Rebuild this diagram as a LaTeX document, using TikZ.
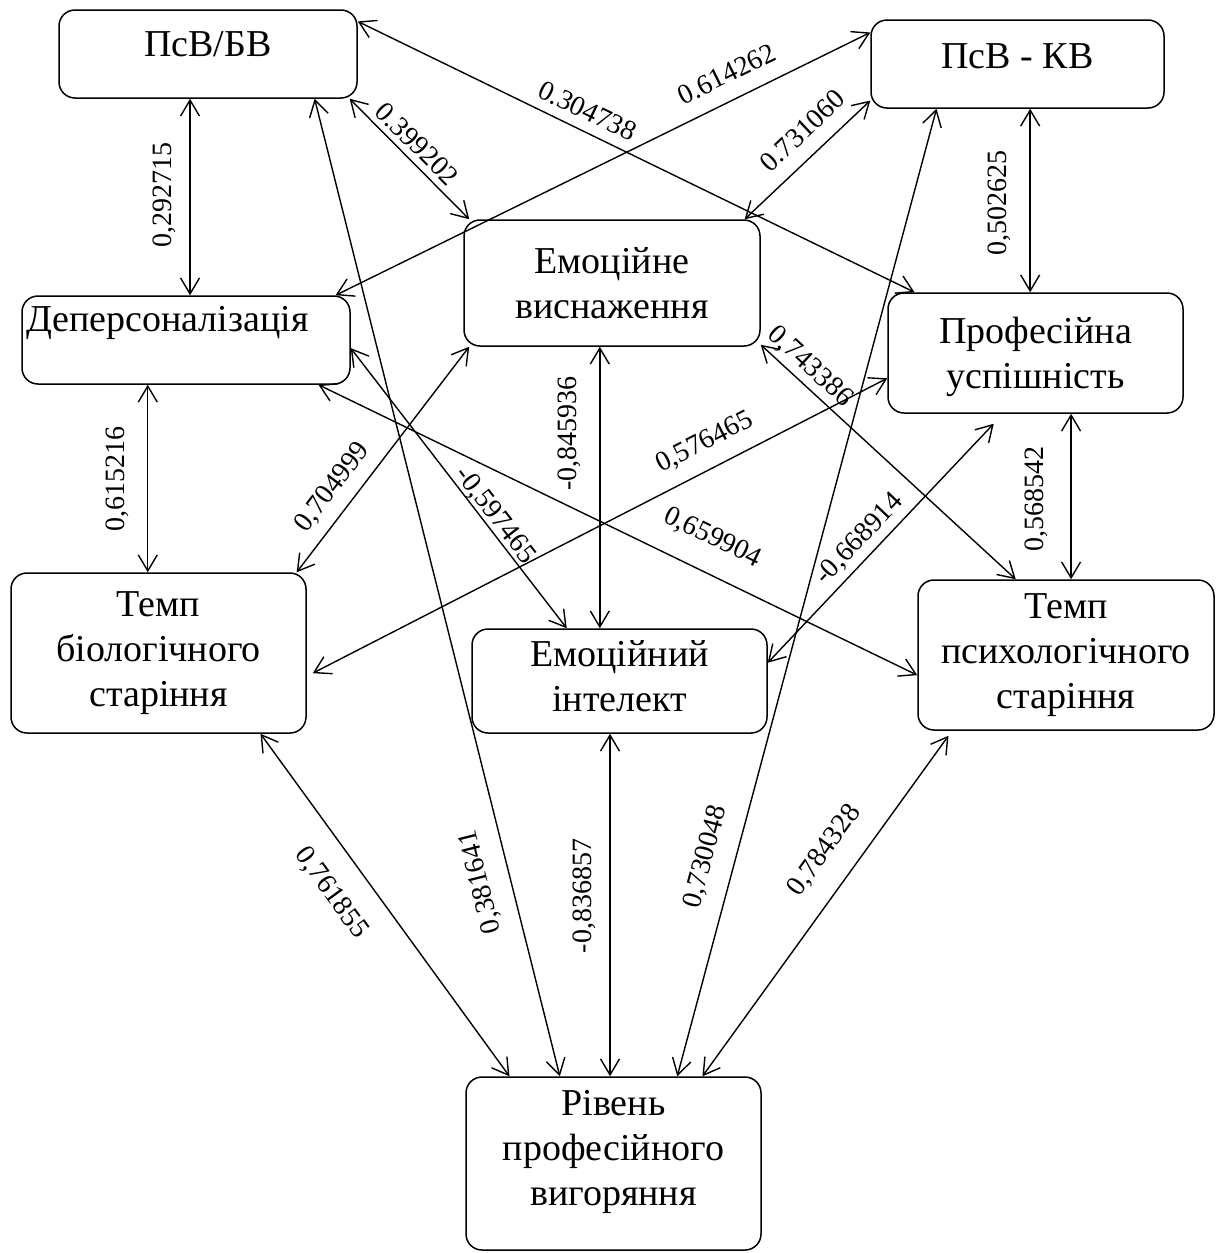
\documentclass[tikz,border=0pt]{standalone}
\usepackage{fontspec}
\setmainfont{Liberation Serif}
\usetikzlibrary{arrows.meta,calc}
\begin{document}
\begin{tikzpicture}[x=0.5pt,y=-0.5pt,
  box/.style={draw, line width=0.75pt, rounded corners=8pt, inner sep=0pt, align=center,
    font=\fontsize{19}{22.5}\selectfont},
  lab/.style={font=\fontsize{14}{16}\selectfont, inner sep=0pt, text depth=0pt, sloped, allow upside down},
  dar/.style={line width=0.7pt, {Straight Barb[length=8pt,width=9.5pt]}-{Straight Barb[length=8pt,width=9.5pt]}}
]
\useasboundingbox (0,0) rectangle (1218,1253);

% boxes
\node[box, minimum width=149pt, minimum height=44pt, text depth=10.3pt] (A) at (208,54) {ПсВ/БВ};
\node[box, minimum width=146.5pt, minimum height=44pt, text depth=8.3pt] (B) at (1017.5,64) {ПсВ - КВ};
\node[box, minimum width=148pt, minimum height=63pt] (C) at (612,283) {Емоційне\\виснаження};
\node[box, text width=160pt, align=left, inner xsep=2pt, inner ysep=0pt,
      text height=17.75pt, text depth=26.25pt] (D) at (186,340) {Деперсоналізація};
\node[box, minimum width=147.5pt, minimum height=60pt, text depth=0pt] (E) at (1035.5,353) {Професійна\\успішність};
\node[box, minimum width=147.5pt, minimum height=80pt] (F) at (158.5,653) {Темп\\біологічного\\старіння};
\node[box, minimum width=147.5pt, minimum height=52pt, text depth=5pt] (G) at (619.5,681) {Емоційний\\інтелект};
\node[box, minimum width=148pt, minimum height=75pt] (H) at (1066,655) {Темп\\психологічного\\старіння};
\node[box, minimum width=147.5pt, minimum height=86.5pt, text depth=16pt] (I) at (613.5,1163.5) {Рівень\\професійного\\вигоряння};

% vertical connectors
\coordinate (a1) at ($(A.south west)!0.44!(A.south east)$);
\draw[dar] (a1 |- D.north) -- (a1) node[lab, pos=0.51, above=9.15pt] (l1) {0,292715};
\coordinate (d1) at ($(D.south west)!0.384!(D.south east)$);
\draw[dar] (d1 |- F.north) -- (d1) node[lab, pos=0.497, above=11.15pt] (l2) {0,615216};
\coordinate (b1) at ($(B.south west)!0.543!(B.south east)$);
\draw[dar] (b1 |- E.north) -- (b1) node[lab, pos=0.486, above=11.65pt] (l3) {0,502625};
\coordinate (e1) at ($(E.south west)!0.62!(E.south east)$);
\draw[dar] (e1 |- H.north) -- (e1) node[lab, pos=0.485, above=13.65pt] (l4) {0,568542};
\coordinate (c1) at ($(C.south west)!0.459!(C.south east)$);
\draw[dar] (c1 |- G.north) -- (c1) node[lab, pos=0.693, above=11.15pt] (l5) {-0,845936};
\coordinate (g1) at ($(G.south west)!0.468!(G.south east)$);
\draw[dar] (g1 |- I.north) -- (g1) node[lab, pos=0.526, above=9.15pt] (l6) {-0,836857};

% diagonal connectors
\draw[dar] ($(A.south west)!0.973!(A.south east)$) -- ($(C.north west)!0.02!(C.north east)$)
  node[lab, pos=0.47, above=3.15pt] (l7) {0.399202};
\draw[dar] ($(A.north east)!0.136!(A.south east)$) -- ($(E.north west)!0.092!(E.north east)$)
  node[lab, pos=0.397, above=5.15pt] (l8) {0.304738};
\draw[dar] ($(D.north west)!0.954!(D.north east)$) -- ($(B.north west)!0.148!(B.south west)$)
  node[lab, pos=0.753, above=8.15pt] (l9) {0.614262};
\draw[dar] ($(C.north west)!0.946!(C.north east)$) -- ($(B.north west)!0.909!(B.south west)$)
  node[lab, pos=0.595, above=7.4pt] (l10) {0.731060};
\draw[dar] ($(I.north west)!0.715!(I.north east)$) -- ($(B.south west)!0.225!(B.south east)$)
  node[lab, pos=0.219, above=10.65pt] (l11) {0,730048};
\draw[dar] ($(I.north west)!0.319!(I.north east)$) -- ($(A.south west)!0.856!(A.south east)$)
  node[lab, pos=0.206, above=10.65pt] (l12) {0,381641};
\draw[dar] ($(F.south west)!0.844!(F.south east)$) -- ($(I.north west)!0.149!(I.north east)$)
  node[lab, pos=0.403, below=12.15pt] (l13) {0,761855};
\draw[dar] ($(I.north west)!0.8!(I.north east)$) -- ($(H.south west)!0.105!(H.south east)+(0,5)$)
  node[lab, pos=0.606, above=12.65pt] (l14) {0,784328};
\draw[dar] ($(F.north west)!0.966!(F.north east)$) -- ($(C.south west)!0.02!(C.south east)$)
  node[lab, pos=0.314, above=7.65pt] (l15) {0,704999};
\draw[dar] ($(D.north east)!0.591!(D.south east)$) -- ($(G.north west)!0.322!(G.north east)$)
  node[lab, pos=0.624, above=2.15pt] (l16) {-0,597465};
\draw[dar] ($(D.south west)!0.902!(D.south east)$) -- ($(H.north west)!0.633!(H.south west)$)
  node[lab, pos=0.633, above=13.15pt] (l17) {0,659904};
\draw[dar] ($(F.north east)!0.625!(F.south east)+(6,0)$) -- ($(E.north west)!0.708!(E.south west)$)
  node[lab, pos=0.703, above=9.15pt] (l18) {0,576465};
\draw[dar] ($(G.north east)!0.327!(G.south east)$) -- ($(E.south west)!0.359!(E.south east)+(0,10)$)
  node[lab, pos=0.464, above=5.15pt] (l19) {-0,668914};
\draw[dar] ($(C.north east)!0.984!(C.south east)$) -- ($(H.north west)!0.331!(H.north east)$)
  node[lab, pos=0.148, above=4.65pt] (l20) {0,743386};
\end{tikzpicture}
\end{document}
